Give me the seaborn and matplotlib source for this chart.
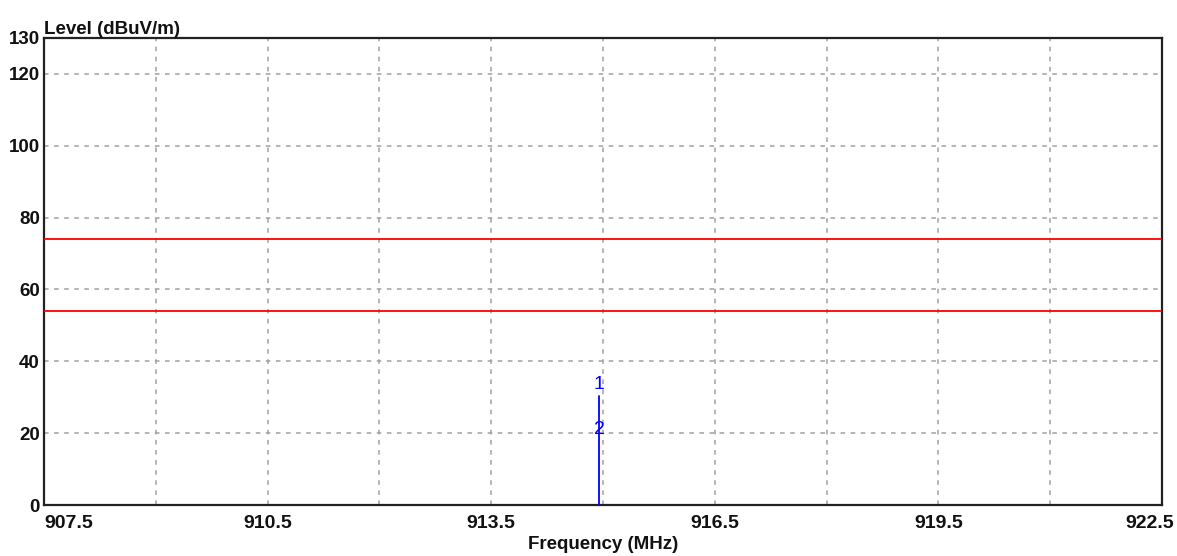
import matplotlib
matplotlib.use("Agg")
import matplotlib.pyplot as plt
import matplotlib.transforms as mtransforms
import seaborn as sns
import pandas as pd

# Data
trace_freq = [914.95, 914.95]
trace_level = [0.0, 30.4]
limit_upper = 74.0
limit_lower = 54.0
freq_range = [907.5, 922.5]
marker_labels = ["1", "2"]
marker_freq = [914.95, 914.95]
marker_level = [33.5, 21.0]
x_ticks = [907.5, 910.5, 913.5, 916.5, 919.5, 922.5]
x_grid = [909.0, 910.5, 912.0, 913.5, 915.0, 916.5, 918.0, 919.5, 921.0]
y_ticks = [0, 20, 40, 60, 80, 100, 120, 130]
y_grid = [20, 40, 60, 80, 100, 120]

sns.set_theme(style="white")
plt.rcParams['font.family'] = ['Liberation Sans', 'DejaVu Sans']

fig = plt.figure(figsize=(11.77, 5.56), dpi=100)
ax = fig.add_axes([44/1177, 1-505/556, (1162-44)/1177, (505-38)/556])

# grid
for gx in x_grid:
    ax.axvline(gx, color="#a0a0a0", linestyle=(0, (3.0, 3.6)), linewidth=1.1, zorder=1)
for gy in y_grid:
    ax.axhline(gy, color="#a0a0a0", linestyle=(0, (3.0, 3.6)), linewidth=1.1, zorder=1)

# limit lines
lim_df = pd.DataFrame({
    "freq": freq_range * 2,
    "level": [limit_upper, limit_upper, limit_lower, limit_lower],
    "line": ["upper", "upper", "lower", "lower"],
})
sns.lineplot(data=lim_df, x="freq", y="level", units="line", estimator=None,
             color="#ff0000", linewidth=1.3, ax=ax, zorder=3)

# trace
tr_df = pd.DataFrame({"freq": trace_freq, "level": trace_level})
sns.lineplot(data=tr_df, x="freq", y="level", estimator=None, sort=False,
             color="#0000ff", linewidth=1.3, ax=ax, zorder=4)

for lab, fx, fy in zip(marker_labels, marker_freq, marker_level):
    ax.text(fx, fy, lab, color="#0000ff", fontsize=14, ha="center", va="center", zorder=5)

ax.set_xlim(freq_range)
ax.set_ylim(0, 130)
ax.set_xticks(x_ticks)
ax.set_xticklabels([str(v) for v in x_ticks], fontsize=14, fontweight="bold", color="#111111")
ax.set_yticks(y_ticks)
ax.set_yticklabels([str(v) for v in y_ticks], fontsize=13.5, fontweight="bold", color="#111111")
ax.tick_params(axis="both", length=0)
ax.tick_params(axis="x", pad=7)
ax.tick_params(axis="y", pad=3)

xl = ax.get_xticklabels()
xl[0].set_horizontalalignment("left")
xl[-1].set_transform(xl[-1].get_transform() + mtransforms.ScaledTranslation(-12/100, 0, fig.dpi_scale_trans))

ax.set_xlabel("Frequency (MHz)", fontsize=13.5, fontweight="bold", color="#111111", labelpad=3)
ax.set_ylabel("")
ax.text(0, 1.0, "Level (dBuV/m)", transform=ax.transAxes, fontsize=13.5, fontweight="bold",
        color="#111111", ha="left", va="bottom")

for s in ax.spines.values():
    s.set_visible(True)
    s.set_color("#222222")
    s.set_linewidth(1.6)

ax.grid(False)
fig.savefig("out.png", dpi=100)
